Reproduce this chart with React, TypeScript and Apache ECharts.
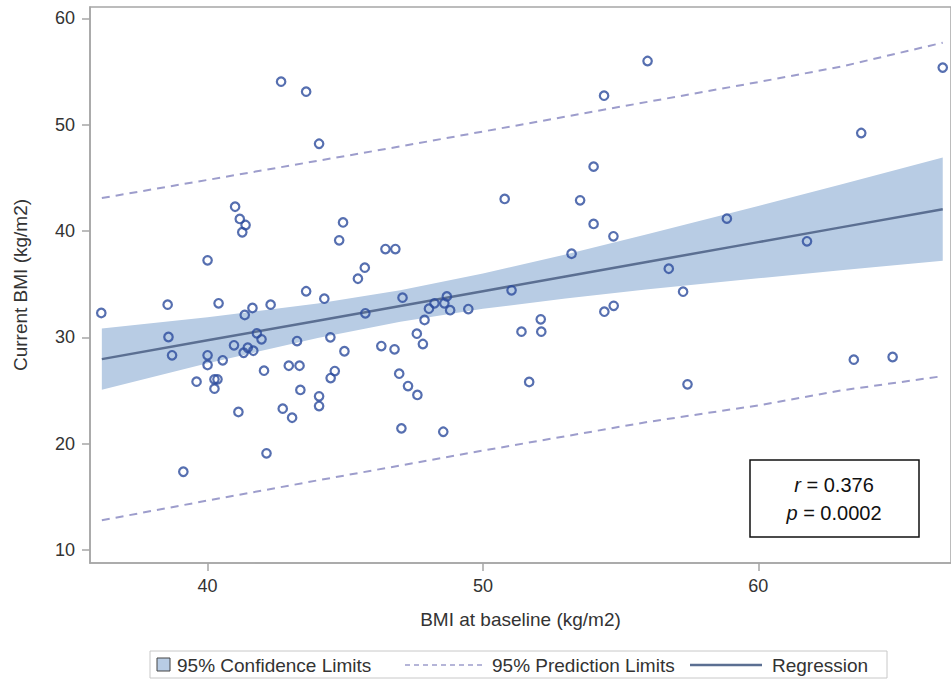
import React, { useEffect, useRef } from "react";
import * as echarts from "echarts";

// Scatter data
const bmiBaseline = [
  36.14, 38.55, 38.58, 38.71, 39.12, 39.6, 40.0, 40.0, 40.0, 40.4,
  40.55, 40.25, 40.36, 40.25, 40.96, 41.12, 41.35, 41.63, 41.31, 41.46,
  41.66, 41.79, 41.96, 42.05, 42.14, 42.29, 42.73, 43.07, 42.95, 43.34,
  43.25, 43.37, 43.58, 44.05, 44.05, 42.67, 43.58, 44.05, 41.0, 41.17,
  41.38, 41.26, 44.92, 44.78, 46.46, 46.82, 50.79, 45.71, 45.46, 44.24,
  45.73, 47.08, 44.46, 46.31, 46.79, 44.97, 44.62, 44.47, 46.96, 47.28,
  47.62, 47.04, 48.56, 51.04, 48.69, 48.24, 48.6, 48.04, 48.81, 49.47,
  47.88, 47.6, 47.82, 51.4, 52.1, 52.12, 51.68, 54.41, 54.75, 54.02,
  53.53, 54.02, 54.74, 53.22, 58.86, 61.77, 56.75, 57.27, 57.43, 63.47,
  64.88, 55.98, 66.7, 63.74, 54.4,
];
const bmiCurrent = [
  32.29, 33.07, 30.03, 28.31, 17.36, 25.83, 37.24, 28.31, 27.4, 33.2,
  27.84, 26.05, 26.05, 25.17, 29.25, 22.98, 32.1, 32.76, 28.55, 29.02,
  28.74, 30.38, 29.81, 26.86, 19.09, 33.07, 23.29, 22.44, 27.33, 27.33,
  29.65, 25.05, 34.33, 24.45, 23.54, 54.04, 53.1, 48.2, 42.28, 41.13,
  40.56, 39.88, 40.8, 39.12, 38.3, 38.3, 43.01, 36.55, 35.51, 33.63,
  32.26, 33.73, 30.0, 29.18, 28.87, 28.69, 26.83, 26.17, 26.58, 25.42,
  24.58, 21.44, 21.12, 34.42, 33.85, 33.2, 33.2, 32.69, 32.55, 32.66,
  31.63, 30.34, 29.37, 30.53, 31.69, 30.53, 25.8, 32.41, 32.96, 46.05,
  42.88, 40.66, 39.5, 37.86, 41.16, 39.03, 36.45, 34.29, 25.58, 27.9,
  28.15, 55.98, 55.36, 49.21, 52.72,
];

// Fit lines (at these x positions)
const fitX = [36.16, 40, 44, 47, 50, 53, 56, 60, 63, 66.7];
const regression = [27.95, 29.72, 31.56, 32.95, 34.34, 35.72, 37.11, 38.95, 40.34, 42.05];
const confUpper = [30.82, 31.88, 33.18, 34.43, 36.0, 37.79, 39.71, 42.35, 44.38, 46.9];
const confLower = [25.08, 27.56, 29.94, 31.47, 32.68, 33.65, 34.51, 35.55, 36.3, 37.2];
const predUpper = [43.1, 44.8, 46.6, 47.95, 49.35, 50.75, 52.15, 54.0, 55.45, 57.7];
const predLower = [12.8, 14.65, 16.55, 17.95, 19.35, 20.7, 22.05, 23.6, 25.0, 26.35];

const xTicks = [40, 50, 60];
const yTicks = [10, 20, 30, 40, 50, 60];

const statR = "0.376";
const statP = "0.0002";

const FONT = "'Liberation Sans', Arial, sans-serif";
const AXIS_COLOR = "#a6a6a6";
const TEXT_COLOR = "#333333";
const BAND_COLOR = "#b8cce4";
const PRED_COLOR = "#9d9dcc";
const REG_COLOR = "#5b6f92";
const MARKER_COLOR = "#2c4b9c";

export default function App() {
  const ref = useRef<HTMLDivElement>(null);

  useEffect(() => {
    if (!ref.current) return;
    const chart = echarts.init(ref.current, undefined, { renderer: "svg" });

    const pair = (ys: number[]) => fitX.map((x, i) => [x, ys[i]]);

    const option: any = {
      animation: false,
      textStyle: { fontFamily: FONT },
      grid: {
        left: 90,
        top: 7,
        right: -5,
        bottom: 116,
        show: true,
        borderColor: AXIS_COLOR,
        borderWidth: 1.5,
        backgroundColor: "transparent",
      },
      xAxis: {
        type: "value",
        min: 35.73,
        max: 67,
        name: "BMI at baseline (kg/m2)",
        nameLocation: "middle",
        nameGap: 47,
        nameTextStyle: { fontSize: 19, color: TEXT_COLOR, fontFamily: FONT },
        axisLine: { show: true, lineStyle: { color: AXIS_COLOR, width: 1.5 } },
        axisTick: { show: true, length: 8, lineStyle: { color: AXIS_COLOR, width: 1.5 }, customValues: xTicks },
        axisLabel: { fontSize: 18, color: TEXT_COLOR, margin: 14, fontFamily: FONT, customValues: xTicks },
        splitLine: { show: false },
      },
      yAxis: {
        type: "value",
        min: 8.78,
        max: 61.06,
        name: "Current BMI (kg/m2)",
        nameLocation: "middle",
        nameGap: 60,
        nameTextStyle: { fontSize: 19, color: TEXT_COLOR, fontFamily: FONT },
        axisLine: { show: true, lineStyle: { color: AXIS_COLOR, width: 1.5 } },
        axisTick: { show: true, length: 8, lineStyle: { color: AXIS_COLOR, width: 1.5 }, customValues: yTicks },
        axisLabel: { fontSize: 18, color: TEXT_COLOR, margin: 15, fontFamily: FONT, customValues: yTicks },
        splitLine: { show: false },
      },
      series: [
        {
          name: "95% Confidence Limits",
          type: "custom",
          silent: true,
          z: 1,
          data: [0],
          renderItem: (_params: any, api: any) => {
            const top = fitX.map((x, i) => api.coord([x, confUpper[i]]));
            const bottom = fitX.map((x, i) => api.coord([x, confLower[i]])).reverse();
            return {
              type: "polygon",
              shape: { points: top.concat(bottom) },
              style: { fill: BAND_COLOR, stroke: "none" },
            };
          },
        },
        {
          name: "95% Prediction Limits",
          type: "line",
          z: 2,
          data: pair(predUpper),
          symbol: "none",
          lineStyle: { color: PRED_COLOR, width: 2, type: [8, 6] },
        },
        {
          name: "95% Prediction Limits (lower)",
          type: "line",
          z: 2,
          data: pair(predLower),
          symbol: "none",
          lineStyle: { color: PRED_COLOR, width: 2, type: [8, 6] },
        },
        {
          name: "Regression",
          type: "line",
          z: 3,
          data: pair(regression),
          symbol: "none",
          lineStyle: { color: REG_COLOR, width: 2.5 },
        },
        {
          name: "Current BMI",
          type: "scatter",
          z: 4,
          data: bmiBaseline.map((x, i) => [x, bmiCurrent[i]]),
          symbol: "circle",
          symbolSize: 8.5,
          itemStyle: { color: "rgba(255,255,255,0)", borderColor: MARKER_COLOR, borderWidth: 2.2 },
        },
      ],
      graphic: [
        // statistics box
        {
          type: "rect",
          shape: { x: 750, y: 460, width: 169, height: 77 },
          style: { fill: "#ffffff", stroke: "#111111", lineWidth: 1.5 },
          z: 100,
        },
        {
          type: "text",
          x: 834,
          y: 485,
          z: 101,
          style: {
            text: "{i|r} = " + statR,
            rich: {
              i: { fontStyle: "italic", fontSize: 20, fontFamily: FONT, fill: "#111" },
            },
            fontSize: 20,
            fontFamily: FONT,
            fill: "#111",
            align: "center",
            verticalAlign: "middle",
          },
        },
        {
          type: "text",
          x: 834,
          y: 513,
          z: 101,
          style: {
            text: "{i|p} = " + statP,
            rich: {
              i: { fontStyle: "italic", fontSize: 20, fontFamily: FONT, fill: "#111" },
            },
            fontSize: 20,
            fontFamily: FONT,
            fill: "#111",
            align: "center",
            verticalAlign: "middle",
          },
        },
        // legend
        {
          type: "rect",
          shape: { x: 150, y: 651, width: 737, height: 27 },
          style: { fill: "#ffffff", stroke: "#c8c8c8", lineWidth: 1 },
          z: 100,
        },
        {
          type: "rect",
          shape: { x: 157, y: 658, width: 13, height: 13 },
          style: { fill: BAND_COLOR, stroke: "#444", lineWidth: 1 },
          z: 101,
        },
        {
          type: "text",
          x: 177,
          y: 665,
          z: 101,
          style: { text: "95% Confidence Limits", fontSize: 19, fontFamily: FONT, fill: TEXT_COLOR, verticalAlign: "middle" },
        },
        {
          type: "line",
          shape: { x1: 405, y1: 665, x2: 482, y2: 665 },
          style: { stroke: PRED_COLOR, lineWidth: 1.5, lineDash: [5, 4] },
          z: 101,
        },
        {
          type: "text",
          x: 492,
          y: 665,
          z: 101,
          style: { text: "95% Prediction Limits", fontSize: 19, fontFamily: FONT, fill: TEXT_COLOR, verticalAlign: "middle" },
        },
        {
          type: "line",
          shape: { x1: 690, y1: 665, x2: 762, y2: 665 },
          style: { stroke: REG_COLOR, lineWidth: 2.5 },
          z: 101,
        },
        {
          type: "text",
          x: 772,
          y: 665,
          z: 101,
          style: { text: "Regression", fontSize: 19, fontFamily: FONT, fill: TEXT_COLOR, verticalAlign: "middle" },
        },
      ],
    };

    chart.setOption(option);
    return () => chart.dispose();
  }, []);

  return (
    <div
      ref={ref}
      style={{ position: "fixed", left: 0, top: 0, width: 951, height: 679, background: "#ffffff" }}
    />
  );
}
